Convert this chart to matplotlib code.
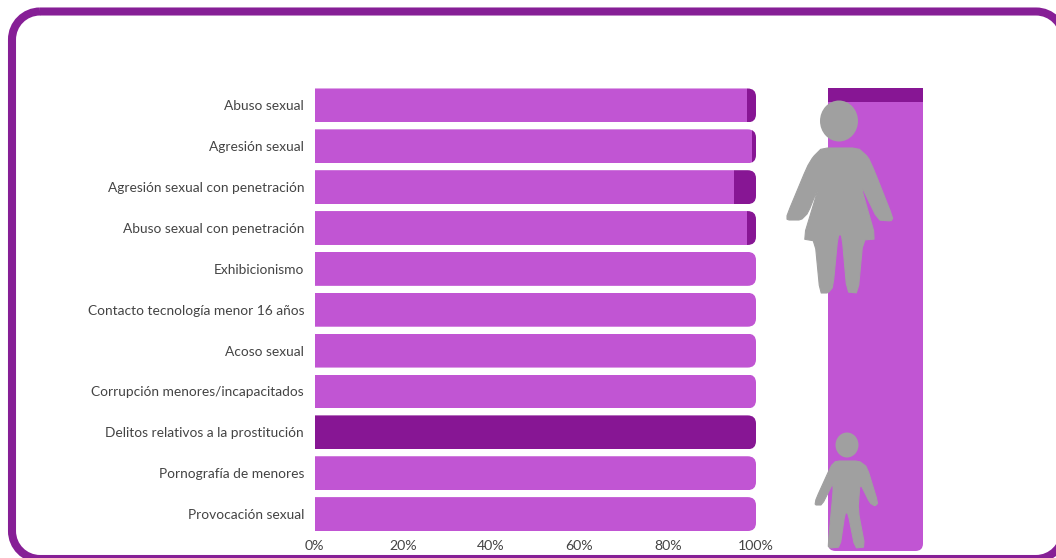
import matplotlib
matplotlib.use("Agg")
import matplotlib.pyplot as plt
from matplotlib.patches import Ellipse, PathPatch
from matplotlib.path import Path
from matplotlib.ticker import PercentFormatter

plt.rcParams['font.family'] = ['Lato', 'DejaVu Sans']

W, H = 1056, 558

LIGHT = '#C155D3'
DARK = '#871694'
BORDER = '#861F96'
GREY = '#A0A0A0'
TEXT = '#444444'

categories = [
    'Abuso sexual',
    'Agresión sexual',
    'Agresión sexual con penetración',
    'Abuso sexual con penetración',
    'Exhibicionismo',
    'Contacto tecnología menor 16 años',
    'Acoso sexual',
    'Corrupción menores/incapacitados',
    'Delitos relativos a la prostitución',
    'Pornografía de menores',
    'Provocación sexual',
]
share_light = [98, 99, 95, 98, 100, 100, 100, 100, 0, 100, 100]
share_dark = [2, 1, 5, 2, 0, 0, 0, 0, 100, 0, 0]

total_light = 97
total_dark = 3

# woman and child pictograms, in pixels from the top left
woman_body = [
    (813, 157), (822, 148), (858, 148), (868, 157), (874, 170), (893, 218),
    (891, 221), (878, 220), (860, 183), (876, 239), (863, 240), (858, 293),
    (847, 292), (842, 235), (838, 235), (833, 287), (828, 293), (820, 293),
    (815, 241), (803, 239), (820, 183), (808, 213), (801, 220), (787, 220),
    (787, 215), (807, 167),
]
child_body = [
    (831, 466), (836, 461), (859, 461), (867, 467), (878, 503), (875, 506),
    (870, 503), (860, 483), (858, 510), (865, 547), (855, 548), (848, 513),
    (845, 513), (840, 547), (830, 548), (828, 546), (833, 493), (833, 483),
    (822, 505), (815, 505), (816, 499),
]


def px_axes(fig, left, top, right, bottom):
    return fig.add_axes([left / W, 1 - bottom / H, (right - left) / W, (bottom - top) / H])


def smooth(points, rounds=1):
    # corner cutting so the pictograms lose their hard edges
    for _ in range(rounds):
        out = []
        for i, (x0, y0) in enumerate(points):
            x1, y1 = points[(i + 1) % len(points)]
            out.append((0.85 * x0 + 0.15 * x1, 0.85 * y0 + 0.15 * y1))
            out.append((0.15 * x0 + 0.85 * x1, 0.15 * y0 + 0.85 * y1))
        points = out
    return points


def frame_path(x0, y0, x1, y1, r):
    # rounded rectangle with true circular corners
    k = 0.5523 * r
    verts = [
        (x0 + r, y0), (x1 - r, y0),
        (x1 - r + k, y0), (x1, y0 + r - k), (x1, y0 + r),
        (x1, y1 - r),
        (x1, y1 - r + k), (x1 - r + k, y1), (x1 - r, y1),
        (x0 + r, y1),
        (x0 + r - k, y1), (x0, y1 - r + k), (x0, y1 - r),
        (x0, y0 + r),
        (x0, y0 + r - k), (x0 + r - k, y0), (x0 + r, y0),
    ]
    codes = [Path.MOVETO, Path.LINETO] + [Path.CURVE4] * 3 + [Path.LINETO] + [Path.CURVE4] * 3 \
        + [Path.LINETO] + [Path.CURVE4] * 3 + [Path.LINETO] + [Path.CURVE4] * 3
    return Path(verts, codes)


def rounded_clip(ax, x0, x1, y0, y1, rx, ry, corners):
    # square on the left/top, rounded only where asked
    verts = [(x0, y0)]
    codes = [Path.MOVETO]
    if corners == 'right':
        verts += [(x1 - rx, y0), (x1, y0), (x1, y0 + ry), (x1, y1 - ry), (x1, y1), (x1 - rx, y1), (x0, y1), (x0, y0)]
        codes += [Path.LINETO, Path.CURVE3, Path.CURVE3, Path.LINETO, Path.CURVE3, Path.CURVE3, Path.LINETO, Path.CLOSEPOLY]
    else:
        verts += [(x1 - rx, y0), (x1, y0), (x1, y0 + ry), (x1, y1), (x0, y1), (x0, y0 + ry), (x0, y0), (x0 + rx, y0)]
        codes += [Path.LINETO, Path.CURVE3, Path.CURVE3, Path.LINETO, Path.LINETO, Path.LINETO, Path.CURVE3, Path.CURVE3]
    return PathPatch(Path(verts, codes), transform=ax.transData, fc='none', ec='none')


fig = plt.figure(figsize=(W / 100, H / 100), dpi=100, facecolor='white')

# outer frame runs off the right and bottom edges; the white fill keeps agg
# from clipping the off-canvas curve points out of shape
bg = fig.add_axes([0, 0, 1, 1])
bg.set_xlim(0, W)
bg.set_ylim(H, 0)
bg.axis('off')
bg.add_patch(PathPatch(frame_path(12, 11.5, 1064, 559, 28), fc='white', ec=BORDER, lw=5.8))

# stacked bars
ax = px_axes(fig, 314.5, 85, 756, 534.5)
ypos = list(range(len(categories)))
bars1 = ax.barh(ypos, share_light, height=0.83, color=LIGHT)
bars2 = ax.barh(ypos, share_dark, left=share_light, height=0.83, color=DARK)
ax.set_facecolor('none')
ax.set_xlim(0, 100)
ax.set_ylim(len(categories) - 0.5, -0.5)
for i in ypos:
    clip = rounded_clip(ax, 0, 100, i - 0.415, i + 0.415, 1.9, 0.2, 'right')
    ax.add_patch(clip)
    bars1[i].set_clip_path(clip)
    bars2[i].set_clip_path(clip)
ax.set_yticks(ypos)
ax.set_yticklabels(categories, fontsize=9.9, color=TEXT)
ax.set_xticks([0, 20, 40, 60, 80, 100])
ax.xaxis.set_major_formatter(PercentFormatter(100, decimals=0))
ax.tick_params(axis='x', length=0, pad=4, labelsize=10.2, labelcolor=TEXT)
ax.tick_params(axis='y', length=0, pad=7.5)
for s in ax.spines.values():
    s.set_visible(False)

# overall split column
col = px_axes(fig, 828, 88, 923, 551)
seg1 = col.bar([0], [total_light], width=1, color=LIGHT)
seg2 = col.bar([0], [total_dark], bottom=[total_light], width=1, color=DARK)
col.set_xlim(-0.5, 0.5)
col.set_ylim(0, 100)
col.axis('off')
clip = rounded_clip(col, -0.5, 0.5, 0, 100, 0.08, 1.6, 'bottom')
col.add_patch(clip)
seg1[0].set_clip_path(clip)
seg2[0].set_clip_path(clip)

# pictograms sit over the column
top = fig.add_axes([0, 0, 1, 1], facecolor='none')
top.set_xlim(0, W)
top.set_ylim(H, 0)
top.axis('off')
top.add_patch(Ellipse((839, 121), 38, 41, fc=GREY, ec='none'))
top.add_patch(plt.Polygon(smooth(woman_body), closed=True, fc=GREY, ec=GREY, lw=0.8, joinstyle='round'))
top.add_patch(Ellipse((847, 445), 23, 25, fc=GREY, ec='none'))
top.add_patch(plt.Polygon(smooth(child_body), closed=True, fc=GREY, ec=GREY, lw=0.8, joinstyle='round'))

fig.savefig('out.png', dpi=100)
